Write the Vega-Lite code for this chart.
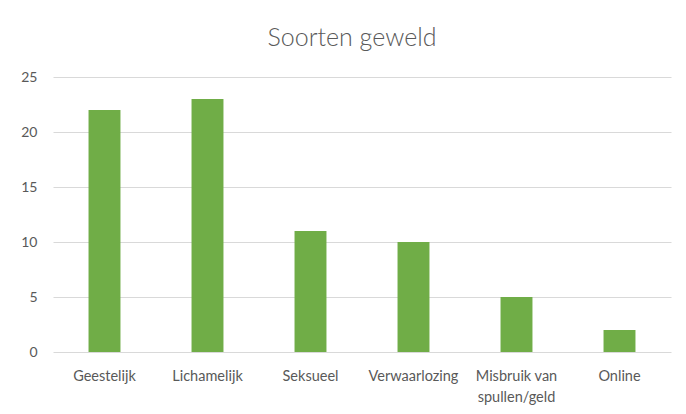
{
  "$schema": "https://vega.github.io/schema/vega-lite/v6.json",
  "autosize": "none",
  "width": 618,
  "height": 275,
  "padding": {"left": 53, "top": 77, "right": 15, "bottom": 62},
  "background": "white",
  "title": {
    "text": "Soorten geweld",
    "font": "Lato",
    "fontSize": 25,
    "fontWeight": 300,
    "color": "#595959",
    "anchor": "middle",
    "dx": -10,
    "offset": 19
  },
  "data": {
    "values": [
      {"soort": "Geestelijk", "aantal": 22},
      {"soort": "Lichamelijk", "aantal": 23},
      {"soort": "Seksueel", "aantal": 11},
      {"soort": "Verwaarlozing", "aantal": 10},
      {"soort": "Misbruik van spullen/geld", "aantal": 5},
      {"soort": "Online", "aantal": 2}
    ]
  },
  "mark": {"type": "bar", "color": "#70AD47"},
  "encoding": {
    "x": {
      "field": "soort",
      "type": "nominal",
      "sort": null,
      "scale": {"paddingInner": 0.69, "paddingOuter": 0.345},
      "axis": {
        "title": null,
        "labelAngle": 0,
        "domain": false,
        "ticks": false,
        "labelPadding": 17,
        "labelFont": "Lato",
        "labelFontSize": 14.5,
        "labelColor": "#595959",
        "labelLineHeight": 21,
        "labelExpr": "datum.value == 'Misbruik van spullen/geld' ? ['Misbruik van', 'spullen/geld'] : datum.value"
      }
    },
    "y": {
      "field": "aantal",
      "type": "quantitative",
      "scale": {"domain": [0, 25]},
      "axis": {
        "title": null,
        "values": [0, 5, 10, 15, 20, 25],
        "domain": false,
        "ticks": false,
        "labelPadding": 16,
        "labelFont": "Lato",
        "labelFontSize": 14,
        "labelColor": "#595959",
        "gridColor": "#d9d9d9",
        "gridWidth": 1
      }
    }
  },
  "config": {"view": {"stroke": null}}
}
